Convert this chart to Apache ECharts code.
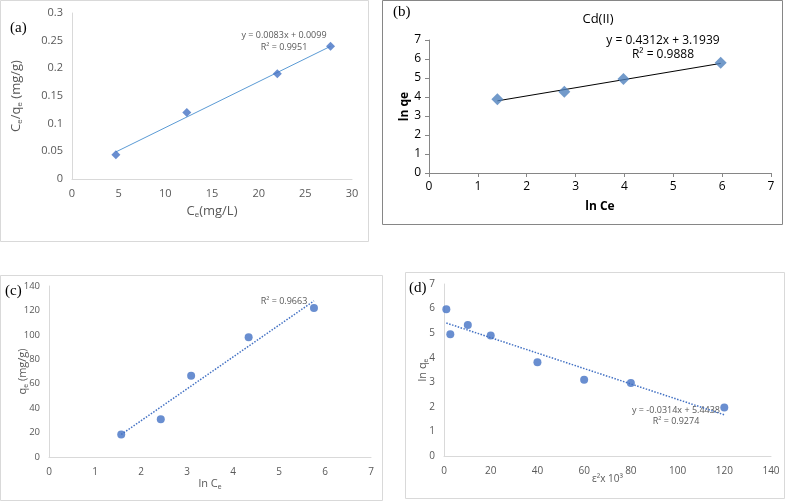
<!DOCTYPE html>
<html>
<head>
<meta charset="utf-8">
<script src="https://cdn.jsdelivr.net/npm/echarts@6/dist/echarts.min.js"></script>
<style>
  html, body { margin: 0; padding: 0; background: #fff; }
  #chart { width: 788px; height: 502px; }
</style>
</head>
<body>
<div id="chart"></div>
<script>
// (a) Langmuir
const aX = [4.7, 12.3, 22.0, 27.7]
const aY = [0.044, 0.12, 0.19, 0.24]
const aSlope = 0.0083, aIntercept = 0.0099
const aTicksX = [0, 30, 5]
const aTicksY = [0, 0.3, 0.05]

// (b) Freundlich Cd(II)
const bX = [1.4, 2.77, 3.98, 5.97]
const bY = [3.88, 4.27, 4.95, 5.8]
const bSlope = 0.4312, bIntercept = 3.1939

// (c) Temkin
const cX = [1.57, 2.43, 3.09, 4.34, 5.76]
const cY = [18.5, 31, 66.5, 98, 122]

// (d) D-R
const dX = [1, 2.7, 10.2, 20, 40, 60, 80, 120]
const dY = [5.97, 4.95, 5.33, 4.9, 3.82, 3.1, 2.97, 1.97]
const dSlope = -0.0314, dIntercept = 5.4438

const pair = (xs, ys) => xs.map((x, i) => [x, ys[i]])
const fitLine = (xs, k, b) => {
  const lo = Math.min(...xs), hi = Math.max(...xs)
  return [[lo, k * lo + b], [hi, k * hi + b]]
}
// least squares for (c), only R² is printed there
const lsq = (xs, ys) => {
  const n = xs.length
  const mx = xs.reduce((s, v) => s + v, 0) / n
  const my = ys.reduce((s, v) => s + v, 0) / n
  let sxy = 0, sxx = 0
  xs.forEach((x, i) => { sxy += (x - mx) * (ys[i] - my); sxx += (x - mx) * (x - mx) })
  const k = sxy / sxx
  return [k, my - k * mx]
}
const [cSlope, cIntercept] = lsq(cX, cY)

const grayLabel = { color: '#595959', fontSize: 11, fontFamily: 'Open Sans' }
const lightLine = { lineStyle: { color: '#d9d9d9' } }

const chart = echarts.init(document.getElementById('chart'))

const option = {
  backgroundColor: '#fff',
  animation: false,
  grid: [
    { left: 72, right: 436, top: 13, bottom: 323 },
    { left: 429, right: 17, top: 40, bottom: 329 },
    { left: 49, right: 417, top: 286, bottom: 45 },
    { left: 444, right: 17, top: 284, bottom: 46 }
  ],
  xAxis: [
    {
      gridIndex: 0, type: 'value', min: aTicksX[0], max: aTicksX[1], interval: aTicksX[2],
      splitLine: { show: false }, axisTick: { show: false }, axisLine: lightLine,
      axisLabel: { ...grayLabel, margin: 9 },
      name: '{n|C}{s|e}{n|(mg/L)}', nameLocation: 'middle', nameGap: 24, nameMoveOverlap: false,
      nameTextStyle: { rich: { n: { fontSize: 13, color: '#595959', fontFamily: 'Open Sans' }, s: { fontSize: 8, color: '#595959', verticalAlign: 'bottom', padding: [8, 0, 0, 0] } } }
    },
    {
      gridIndex: 1, type: 'value', min: 0, max: 7, interval: 1,
      splitLine: { show: false },
      axisTick: { show: true, inside: false, length: 4, lineStyle: { color: '#868686' } },
      axisLine: { lineStyle: { color: '#868686' } },
      axisLabel: { color: '#000', fontSize: 12, fontFamily: 'Open Sans', margin: 8 },
      name: 'ln Ce', nameLocation: 'middle', nameGap: 28, nameMoveOverlap: false,
      nameTextStyle: { color: '#000', fontSize: 12, fontWeight: 'bold', fontFamily: 'Open Sans' }
    },
    {
      gridIndex: 2, type: 'value', min: 0, max: 7, interval: 1,
      splitLine: { show: false }, axisTick: { show: false }, axisLine: lightLine,
      axisLabel: { ...grayLabel, fontSize: 10, margin: 10 },
      name: '{n|ln C}{s|e}', nameLocation: 'middle', nameGap: 20, nameMoveOverlap: false,
      nameTextStyle: { rich: { n: { fontSize: 11, color: '#595959', fontFamily: 'Open Sans' }, s: { fontSize: 7, color: '#595959', padding: [7, 0, 0, 0] } } }
    },
    {
      gridIndex: 3, type: 'value', min: 0, max: 140, interval: 20,
      splitLine: { show: false }, axisTick: { show: false }, axisLine: lightLine,
      axisLabel: { ...grayLabel, fontSize: 10, margin: 10 },
      name: 'ε²x 10³', nameLocation: 'middle', nameGap: 18, nameMoveOverlap: false,
      nameTextStyle: { color: '#595959', fontSize: 10, fontFamily: 'Open Sans' }
    }
  ],
  yAxis: [
    {
      gridIndex: 0, type: 'value', min: aTicksY[0], max: aTicksY[1], interval: aTicksY[2],
      splitLine: { show: false }, axisTick: { show: false }, axisLine: { show: true, ...lightLine },
      axisLabel: { ...grayLabel, margin: 9 },
      name: '{n|C}{s|e}{n|/q}{s|e}{n| (mg/g)}', nameLocation: 'middle', nameGap: 48, nameMoveOverlap: false,
      nameTextStyle: { rich: { n: { fontSize: 13, color: '#595959', fontFamily: 'Open Sans' }, s: { fontSize: 8, color: '#595959', padding: [8, 0, 0, 0] } } }
    },
    {
      gridIndex: 1, type: 'value', min: 0, max: 7, interval: 1,
      splitLine: { show: false },
      axisTick: { show: true, length: 4, lineStyle: { color: '#868686' } },
      axisLine: { show: true, lineStyle: { color: '#868686' } },
      axisLabel: { color: '#000', fontSize: 12, fontFamily: 'Open Sans', margin: 8 },
      name: 'ln qe', nameLocation: 'middle', nameGap: 18, nameMoveOverlap: false,
      nameTextStyle: { color: '#000', fontSize: 12, fontWeight: 'bold', fontFamily: 'Open Sans' }
    },
    {
      gridIndex: 2, type: 'value', min: 0, max: 140, interval: 20,
      splitLine: { show: false }, axisTick: { show: false }, axisLine: { show: true, ...lightLine },
      axisLabel: { ...grayLabel, fontSize: 9.5, margin: 9 },
      name: '{n|q}{s|e}{n| (mg/g)}', nameLocation: 'middle', nameGap: 19, nameMoveOverlap: false,
      nameTextStyle: { rich: { n: { fontSize: 11, color: '#595959', fontFamily: 'Open Sans' }, s: { fontSize: 7, color: '#595959', padding: [7, 0, 0, 0] } } }
    },
    {
      gridIndex: 3, type: 'value', min: 0, max: 7, interval: 1,
      splitLine: { show: false }, axisTick: { show: false }, axisLine: { show: true, ...lightLine },
      axisLabel: { ...grayLabel, fontSize: 10, margin: 9 },
      name: '{n|ln q}{s|e}', nameLocation: 'middle', nameGap: 14, nameMoveOverlap: false,
      nameTextStyle: { rich: { n: { fontSize: 11, color: '#595959', fontFamily: 'Open Sans' }, s: { fontSize: 7, color: '#595959', padding: [7, 0, 0, 0] } } }
    }
  ],
  series: [
    // (a)
    { type: 'line', xAxisIndex: 0, yAxisIndex: 0, data: fitLine(aX, aSlope, aIntercept), symbol: 'none', lineStyle: { color: '#5b9bd5', width: 1 }, z: 2 },
    { type: 'scatter', xAxisIndex: 0, yAxisIndex: 0, data: pair(aX, aY), symbol: 'diamond', symbolSize: 9, itemStyle: { color: '#4472c4' }, z: 3 },
    // (b)
    { type: 'line', xAxisIndex: 1, yAxisIndex: 1, data: fitLine(bX, bSlope, bIntercept), symbol: 'none', lineStyle: { color: '#000', width: 1 }, z: 2 },
    { type: 'scatter', xAxisIndex: 1, yAxisIndex: 1, data: pair(bX, bY), symbol: 'diamond', symbolSize: 12, itemStyle: { color: '#4f81bd' }, z: 3 },
    // (c)
    { type: 'line', xAxisIndex: 2, yAxisIndex: 2, data: fitLine(cX, cSlope, cIntercept), symbol: 'none', lineStyle: { color: '#4472c4', width: 1.5, type: [1.5, 1.5] }, z: 2 },
    { type: 'scatter', xAxisIndex: 2, yAxisIndex: 2, data: pair(cX, cY), symbol: 'circle', symbolSize: 8, itemStyle: { color: '#4472c4' }, z: 3 },
    // (d)
    { type: 'line', xAxisIndex: 3, yAxisIndex: 3, data: fitLine(dX, dSlope, dIntercept), symbol: 'none', lineStyle: { color: '#4472c4', width: 1.5, type: [1.5, 1.5] }, z: 2 },
    { type: 'scatter', xAxisIndex: 3, yAxisIndex: 3, data: pair(dX, dY), symbol: 'circle', symbolSize: 8, itemStyle: { color: '#4472c4' }, z: 3 }
  ],
  graphic: [
    // panel frames
    { type: 'rect', shape: { x: 0.5, y: 0.5, width: 368, height: 241 }, style: { fill: 'none', stroke: '#d9d9d9' }, z: -1 },
    { type: 'rect', shape: { x: 382.5, y: 0.5, width: 400, height: 224 }, style: { fill: 'none', stroke: '#868686' }, z: -1 },
    { type: 'rect', shape: { x: 0.5, y: 275.5, width: 382, height: 225 }, style: { fill: 'none', stroke: '#d9d9d9' }, z: -1 },
    { type: 'rect', shape: { x: 405.5, y: 272.5, width: 379, height: 226 }, style: { fill: 'none', stroke: '#d9d9d9' }, z: -1 },
    // panel letters
    { type: 'text', left: 10, top: 21, style: { text: '(a)', font: '15px "Liberation Serif"', fill: '#000' } },
    { type: 'text', left: 393, top: 5, style: { text: '(b)', font: '15px "Liberation Serif"', fill: '#000' } },
    { type: 'text', left: 5, top: 284, style: { text: '(c)', font: '15px "Liberation Serif"', fill: '#000' } },
    { type: 'text', left: 409, top: 281, style: { text: '(d)', font: '15px "Liberation Serif"', fill: '#000' } },
    // (b) title
    { type: 'text', x: 598, y: 19, style: { text: 'Cd(II)', font: '13px "Open Sans"', fill: '#000', align: 'center', verticalAlign: 'middle' } },
    // equations
    { type: 'text', x: 284, y: 41, style: { text: 'y = 0.0083x + 0.0099\nR² = 0.9951', font: '9px "Open Sans"', fill: '#595959', align: 'center', verticalAlign: 'middle', lineHeight: 12 } },
    { type: 'text', x: 663, y: 48, style: { text: 'y = 0.4312x + 3.1939\nR² = 0.9888', font: '12px "Open Sans"', fill: '#000', align: 'center', verticalAlign: 'middle', lineHeight: 14 } },
    { type: 'text', x: 284, y: 301, style: { text: 'R² = 0.9663', font: '9px "Open Sans"', fill: '#595959', align: 'center', verticalAlign: 'middle' } },
    { type: 'text', x: 676, y: 416, style: { text: 'y = -0.0314x + 5.4438\nR² = 0.9274', font: '9px "Open Sans"', fill: '#595959', align: 'center', verticalAlign: 'middle', lineHeight: 11 } }
  ]
}

chart.setOption(option)
</script>
</body>
</html>
